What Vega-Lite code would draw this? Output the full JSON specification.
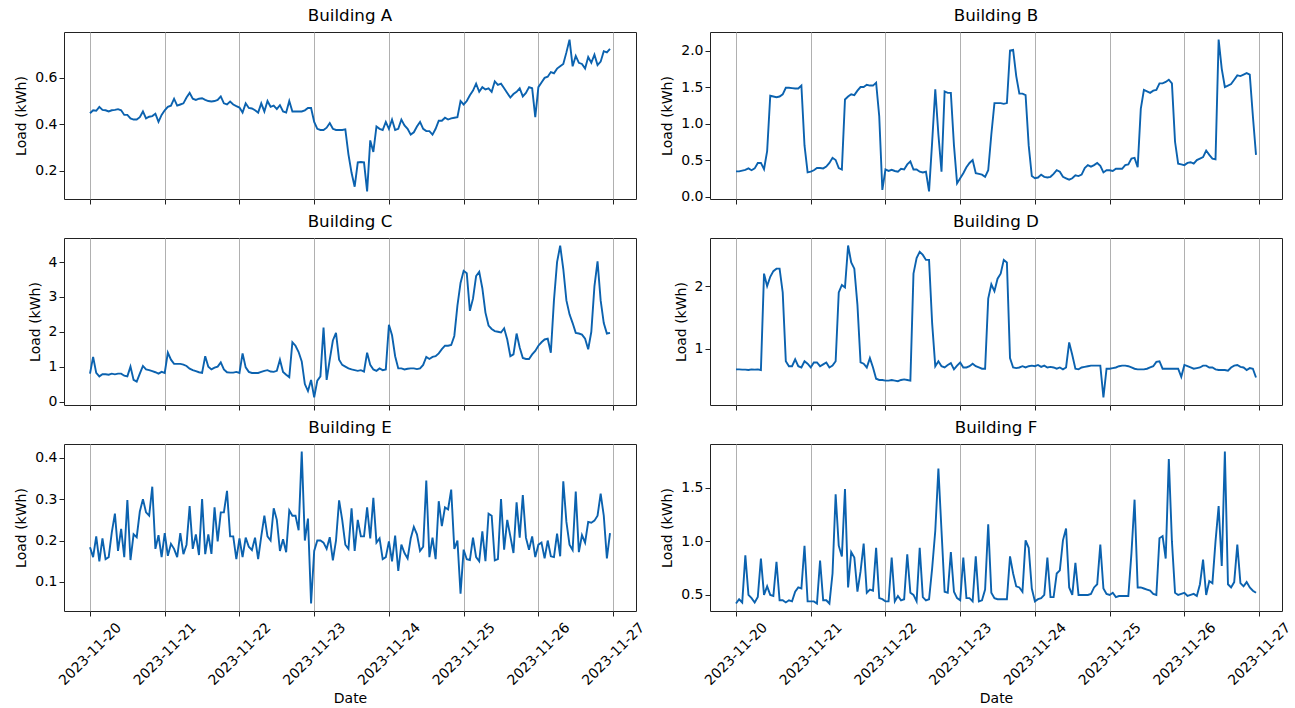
{
"$schema": "https://vega.github.io/schema/vega-lite/v6.json",
"padding": {"left": 14, "top": 7, "right": 5, "bottom": 1},
"config": {
 "font": "DejaVu Sans",
 "view": {"stroke": "#222222", "strokeWidth": 1},
 "title": {"fontSize": 16.7, "fontWeight": "normal", "color": "black", "offset": 7, "font": "DejaVu Sans"},
 "axis": {"labelFontSize": 14, "titleFontSize": 14, "titleFontWeight": "normal", "labelColor": "black", "titleColor": "black", "tickColor": "#222222", "tickSize": 5, "domain": false, "labelFont": "DejaVu Sans", "titleFont": "DejaVu Sans"},
 "axisX": {"grid": true, "gridColor": "#b0b0b0", "gridWidth": 1},
 "axisY": {"grid": false, "titlePadding": 6},
 "line": {"color": "#0b62af", "strokeWidth": 1.9}
},
"datasets": {"d": [
{"t":"2023-11-20T00:00","A":0.447,"B":0.345,"C":0.8,"D":0.67,"E":0.184,"F":0.42},
{"t":"2023-11-20T01:00","A":0.46,"B":0.345,"C":1.28,"D":0.67,"E":0.16,"F":0.46},
{"t":"2023-11-20T02:00","A":0.458,"B":0.355,"C":0.82,"D":0.665,"E":0.21,"F":0.43},
{"t":"2023-11-20T03:00","A":0.475,"B":0.365,"C":0.72,"D":0.665,"E":0.15,"F":0.87},
{"t":"2023-11-20T04:00","A":0.462,"B":0.385,"C":0.78,"D":0.66,"E":0.205,"F":0.5},
{"t":"2023-11-20T05:00","A":0.46,"B":0.36,"C":0.78,"D":0.67,"E":0.155,"F":0.47},
{"t":"2023-11-20T06:00","A":0.455,"B":0.385,"C":0.77,"D":0.665,"E":0.16,"F":0.43},
{"t":"2023-11-20T07:00","A":0.46,"B":0.46,"C":0.8,"D":0.67,"E":0.22,"F":0.48},
{"t":"2023-11-20T08:00","A":0.462,"B":0.46,"C":0.78,"D":0.66,"E":0.265,"F":0.84},
{"t":"2023-11-20T09:00","A":0.465,"B":0.375,"C":0.8,"D":2.2,"E":0.175,"F":0.5},
{"t":"2023-11-20T10:00","A":0.46,"B":0.62,"C":0.8,"D":2.0,"E":0.228,"F":0.58},
{"t":"2023-11-20T11:00","A":0.44,"B":1.38,"C":0.74,"D":2.15,"E":0.16,"F":0.5},
{"t":"2023-11-20T12:00","A":0.44,"B":1.37,"C":0.72,"D":2.24,"E":0.298,"F":0.49},
{"t":"2023-11-20T13:00","A":0.425,"B":1.36,"C":1.0,"D":2.28,"E":0.153,"F":0.81},
{"t":"2023-11-20T14:00","A":0.42,"B":1.37,"C":0.62,"D":2.28,"E":0.215,"F":0.45},
{"t":"2023-11-20T15:00","A":0.42,"B":1.4,"C":0.57,"D":1.9,"E":0.208,"F":0.45},
{"t":"2023-11-20T16:00","A":0.43,"B":1.49,"C":0.8,"D":0.8,"E":0.27,"F":0.43},
{"t":"2023-11-20T17:00","A":0.455,"B":1.49,"C":1.02,"D":0.72,"E":0.3,"F":0.45},
{"t":"2023-11-20T18:00","A":0.425,"B":1.485,"C":0.92,"D":0.72,"E":0.268,"F":0.44},
{"t":"2023-11-20T19:00","A":0.432,"B":1.48,"C":0.9,"D":0.83,"E":0.26,"F":0.53},
{"t":"2023-11-20T20:00","A":0.435,"B":1.48,"C":0.87,"D":0.72,"E":0.33,"F":0.57},
{"t":"2023-11-20T21:00","A":0.445,"B":1.52,"C":0.84,"D":0.7,"E":0.18,"F":0.56},
{"t":"2023-11-20T22:00","A":0.41,"B":0.7,"C":0.8,"D":0.8,"E":0.213,"F":0.96},
{"t":"2023-11-20T23:00","A":0.44,"B":0.33,"C":0.85,"D":0.76,"E":0.16,"F":0.44},
{"t":"2023-11-21T00:00","A":0.46,"B":0.34,"C":0.82,"D":0.7,"E":0.218,"F":0.44},
{"t":"2023-11-21T01:00","A":0.475,"B":0.36,"C":1.4,"D":0.78,"E":0.163,"F":0.44},
{"t":"2023-11-21T02:00","A":0.48,"B":0.39,"C":1.2,"D":0.78,"E":0.192,"F":0.42},
{"t":"2023-11-21T03:00","A":0.51,"B":0.39,"C":1.08,"D":0.72,"E":0.18,"F":0.82},
{"t":"2023-11-21T04:00","A":0.48,"B":0.385,"C":1.08,"D":0.75,"E":0.16,"F":0.45},
{"t":"2023-11-21T05:00","A":0.485,"B":0.41,"C":1.08,"D":0.78,"E":0.218,"F":0.45},
{"t":"2023-11-21T06:00","A":0.49,"B":0.46,"C":1.06,"D":0.7,"E":0.167,"F":0.42},
{"t":"2023-11-21T07:00","A":0.515,"B":0.53,"C":1.02,"D":0.73,"E":0.19,"F":0.7},
{"t":"2023-11-21T08:00","A":0.535,"B":0.5,"C":0.94,"D":0.8,"E":0.283,"F":1.44},
{"t":"2023-11-21T09:00","A":0.51,"B":0.39,"C":0.9,"D":1.9,"E":0.18,"F":0.96},
{"t":"2023-11-21T10:00","A":0.505,"B":0.37,"C":0.87,"D":2.02,"E":0.215,"F":0.86},
{"t":"2023-11-21T11:00","A":0.51,"B":1.33,"C":0.84,"D":1.98,"E":0.165,"F":1.49},
{"t":"2023-11-21T12:00","A":0.512,"B":1.37,"C":0.82,"D":2.65,"E":0.3,"F":0.57},
{"t":"2023-11-21T13:00","A":0.505,"B":1.4,"C":1.3,"D":2.38,"E":0.167,"F":0.9},
{"t":"2023-11-21T14:00","A":0.5,"B":1.39,"C":1.0,"D":2.28,"E":0.215,"F":0.85},
{"t":"2023-11-21T15:00","A":0.498,"B":1.45,"C":0.92,"D":1.7,"E":0.168,"F":0.53},
{"t":"2023-11-21T16:00","A":0.5,"B":1.5,"C":0.97,"D":0.78,"E":0.28,"F":0.72},
{"t":"2023-11-21T17:00","A":0.505,"B":1.5,"C":1.0,"D":0.76,"E":0.198,"F":0.98},
{"t":"2023-11-21T18:00","A":0.52,"B":1.53,"C":1.12,"D":0.7,"E":0.268,"F":0.52},
{"t":"2023-11-21T19:00","A":0.49,"B":1.52,"C":0.92,"D":0.85,"E":0.268,"F":0.55},
{"t":"2023-11-21T20:00","A":0.485,"B":1.52,"C":0.84,"D":0.7,"E":0.32,"F":0.54},
{"t":"2023-11-21T21:00","A":0.498,"B":1.56,"C":0.83,"D":0.52,"E":0.21,"F":0.94},
{"t":"2023-11-21T22:00","A":0.485,"B":1.1,"C":0.83,"D":0.5,"E":0.21,"F":0.47},
{"t":"2023-11-21T23:00","A":0.478,"B":0.09,"C":0.85,"D":0.5,"E":0.155,"F":0.46},
{"t":"2023-11-22T00:00","A":0.472,"B":0.37,"C":0.82,"D":0.49,"E":0.205,"F":0.44},
{"t":"2023-11-22T01:00","A":0.45,"B":0.35,"C":1.38,"D":0.49,"E":0.16,"F":0.44},
{"t":"2023-11-22T02:00","A":0.49,"B":0.365,"C":0.98,"D":0.5,"E":0.207,"F":0.85},
{"t":"2023-11-22T03:00","A":0.47,"B":0.35,"C":0.85,"D":0.49,"E":0.185,"F":0.44},
{"t":"2023-11-22T04:00","A":0.468,"B":0.34,"C":0.82,"D":0.48,"E":0.177,"F":0.49},
{"t":"2023-11-22T05:00","A":0.46,"B":0.38,"C":0.82,"D":0.5,"E":0.207,"F":0.45},
{"t":"2023-11-22T06:00","A":0.45,"B":0.37,"C":0.82,"D":0.51,"E":0.155,"F":0.46},
{"t":"2023-11-22T07:00","A":0.49,"B":0.44,"C":0.85,"D":0.5,"E":0.21,"F":0.88},
{"t":"2023-11-22T08:00","A":0.455,"B":0.48,"C":0.88,"D":0.49,"E":0.26,"F":0.52},
{"t":"2023-11-22T09:00","A":0.5,"B":0.37,"C":0.9,"D":2.2,"E":0.21,"F":0.5},
{"t":"2023-11-22T10:00","A":0.475,"B":0.37,"C":0.86,"D":2.45,"E":0.2,"F":0.44},
{"t":"2023-11-22T11:00","A":0.48,"B":0.34,"C":0.85,"D":2.55,"E":0.278,"F":0.94},
{"t":"2023-11-22T12:00","A":0.465,"B":0.33,"C":0.88,"D":2.5,"E":0.25,"F":0.48},
{"t":"2023-11-22T13:00","A":0.482,"B":0.34,"C":1.2,"D":2.42,"E":0.175,"F":0.45},
{"t":"2023-11-22T14:00","A":0.455,"B":0.07,"C":0.85,"D":2.42,"E":0.203,"F":0.46},
{"t":"2023-11-22T15:00","A":0.45,"B":0.75,"C":0.77,"D":1.4,"E":0.172,"F":0.75},
{"t":"2023-11-22T16:00","A":0.5,"B":1.47,"C":0.7,"D":0.72,"E":0.273,"F":1.1},
{"t":"2023-11-22T17:00","A":0.455,"B":0.85,"C":1.7,"D":0.8,"E":0.26,"F":1.68},
{"t":"2023-11-22T18:00","A":0.455,"B":0.34,"C":1.6,"D":0.72,"E":0.26,"F":1.1},
{"t":"2023-11-22T19:00","A":0.455,"B":1.44,"C":1.42,"D":0.7,"E":0.225,"F":0.53},
{"t":"2023-11-22T20:00","A":0.455,"B":1.42,"C":1.15,"D":0.74,"E":0.415,"F":0.52},
{"t":"2023-11-22T21:00","A":0.46,"B":1.42,"C":0.5,"D":0.77,"E":0.2,"F":0.9},
{"t":"2023-11-22T22:00","A":0.47,"B":0.7,"C":0.3,"D":0.67,"E":0.253,"F":0.53},
{"t":"2023-11-22T23:00","A":0.47,"B":0.18,"C":0.62,"D":0.73,"E":0.048,"F":0.47},
{"t":"2023-11-23T00:00","A":0.41,"B":0.25,"C":0.12,"D":0.78,"E":0.175,"F":0.45},
{"t":"2023-11-23T01:00","A":0.38,"B":0.32,"C":0.6,"D":0.7,"E":0.2,"F":0.85},
{"t":"2023-11-23T02:00","A":0.375,"B":0.4,"C":0.72,"D":0.7,"E":0.2,"F":0.47},
{"t":"2023-11-23T03:00","A":0.375,"B":0.46,"C":2.12,"D":0.72,"E":0.195,"F":0.47},
{"t":"2023-11-23T04:00","A":0.385,"B":0.5,"C":0.62,"D":0.76,"E":0.18,"F":0.44},
{"t":"2023-11-23T05:00","A":0.405,"B":0.32,"C":1.2,"D":0.72,"E":0.208,"F":0.86},
{"t":"2023-11-23T06:00","A":0.38,"B":0.31,"C":1.75,"D":0.7,"E":0.152,"F":0.44},
{"t":"2023-11-23T07:00","A":0.375,"B":0.3,"C":1.97,"D":0.68,"E":0.2,"F":0.45},
{"t":"2023-11-23T08:00","A":0.375,"B":0.27,"C":1.2,"D":0.68,"E":0.297,"F":0.55},
{"t":"2023-11-23T09:00","A":0.375,"B":0.36,"C":1.05,"D":1.8,"E":0.25,"F":1.16},
{"t":"2023-11-23T10:00","A":0.378,"B":0.85,"C":1.0,"D":2.03,"E":0.19,"F":0.52},
{"t":"2023-11-23T11:00","A":0.27,"B":1.28,"C":0.95,"D":1.92,"E":0.18,"F":0.47},
{"t":"2023-11-23T12:00","A":0.19,"B":1.28,"C":0.92,"D":2.12,"E":0.278,"F":0.46},
{"t":"2023-11-23T13:00","A":0.13,"B":1.28,"C":0.9,"D":2.2,"E":0.175,"F":0.46},
{"t":"2023-11-23T14:00","A":0.235,"B":1.27,"C":0.88,"D":2.42,"E":0.25,"F":0.46},
{"t":"2023-11-23T15:00","A":0.237,"B":1.28,"C":0.9,"D":2.38,"E":0.21,"F":0.46},
{"t":"2023-11-23T16:00","A":0.235,"B":2.0,"C":0.86,"D":0.85,"E":0.21,"F":0.86},
{"t":"2023-11-23T17:00","A":0.11,"B":2.01,"C":1.4,"D":0.7,"E":0.28,"F":0.7},
{"t":"2023-11-23T18:00","A":0.33,"B":1.65,"C":1.05,"D":0.69,"E":0.205,"F":0.58},
{"t":"2023-11-23T19:00","A":0.28,"B":1.41,"C":0.92,"D":0.7,"E":0.303,"F":0.57},
{"t":"2023-11-23T20:00","A":0.39,"B":1.41,"C":0.88,"D":0.72,"E":0.195,"F":0.53},
{"t":"2023-11-23T21:00","A":0.38,"B":1.39,"C":0.95,"D":0.7,"E":0.205,"F":1.01},
{"t":"2023-11-23T22:00","A":0.375,"B":0.7,"C":0.9,"D":0.72,"E":0.155,"F":0.94},
{"t":"2023-11-23T23:00","A":0.41,"B":0.28,"C":0.92,"D":0.73,"E":0.16,"F":0.56},
{"t":"2023-11-24T00:00","A":0.38,"B":0.25,"C":2.2,"D":0.72,"E":0.198,"F":0.44},
{"t":"2023-11-24T01:00","A":0.42,"B":0.26,"C":1.9,"D":0.74,"E":0.15,"F":0.46},
{"t":"2023-11-24T02:00","A":0.375,"B":0.3,"C":1.3,"D":0.71,"E":0.212,"F":0.47},
{"t":"2023-11-24T03:00","A":0.38,"B":0.27,"C":0.95,"D":0.73,"E":0.127,"F":0.5},
{"t":"2023-11-24T04:00","A":0.42,"B":0.26,"C":0.95,"D":0.7,"E":0.19,"F":0.85},
{"t":"2023-11-24T05:00","A":0.395,"B":0.27,"C":0.92,"D":0.71,"E":0.17,"F":0.48},
{"t":"2023-11-24T06:00","A":0.38,"B":0.31,"C":0.94,"D":0.7,"E":0.157,"F":0.48},
{"t":"2023-11-24T07:00","A":0.355,"B":0.36,"C":0.95,"D":0.68,"E":0.205,"F":0.7},
{"t":"2023-11-24T08:00","A":0.365,"B":0.34,"C":0.95,"D":0.7,"E":0.233,"F":0.73},
{"t":"2023-11-24T09:00","A":0.39,"B":0.27,"C":0.93,"D":0.67,"E":0.215,"F":1.01},
{"t":"2023-11-24T10:00","A":0.41,"B":0.25,"C":0.95,"D":0.7,"E":0.175,"F":1.12},
{"t":"2023-11-24T11:00","A":0.38,"B":0.23,"C":1.05,"D":1.1,"E":0.185,"F":0.57},
{"t":"2023-11-24T12:00","A":0.37,"B":0.25,"C":1.28,"D":0.9,"E":0.345,"F":0.5},
{"t":"2023-11-24T13:00","A":0.37,"B":0.29,"C":1.22,"D":0.68,"E":0.16,"F":0.8},
{"t":"2023-11-24T14:00","A":0.355,"B":0.28,"C":1.28,"D":0.67,"E":0.207,"F":0.5},
{"t":"2023-11-24T15:00","A":0.38,"B":0.3,"C":1.3,"D":0.7,"E":0.155,"F":0.5},
{"t":"2023-11-24T16:00","A":0.415,"B":0.39,"C":1.38,"D":0.71,"E":0.295,"F":0.5},
{"t":"2023-11-24T17:00","A":0.415,"B":0.43,"C":1.5,"D":0.72,"E":0.235,"F":0.5},
{"t":"2023-11-24T18:00","A":0.428,"B":0.41,"C":1.6,"D":0.73,"E":0.28,"F":0.51},
{"t":"2023-11-24T19:00","A":0.42,"B":0.43,"C":1.6,"D":0.73,"E":0.275,"F":0.57},
{"t":"2023-11-24T20:00","A":0.425,"B":0.46,"C":1.62,"D":0.73,"E":0.323,"F":0.6},
{"t":"2023-11-24T21:00","A":0.428,"B":0.42,"C":1.88,"D":0.73,"E":0.18,"F":0.97},
{"t":"2023-11-24T22:00","A":0.43,"B":0.33,"C":2.75,"D":0.22,"E":0.2,"F":0.56},
{"t":"2023-11-24T23:00","A":0.5,"B":0.36,"C":3.4,"D":0.68,"E":0.072,"F":0.51},
{"t":"2023-11-25T00:00","A":0.485,"B":0.36,"C":3.75,"D":0.68,"E":0.178,"F":0.5},
{"t":"2023-11-25T01:00","A":0.5,"B":0.35,"C":3.68,"D":0.69,"E":0.155,"F":0.52},
{"t":"2023-11-25T02:00","A":0.525,"B":0.38,"C":2.6,"D":0.7,"E":0.153,"F":0.48},
{"t":"2023-11-25T03:00","A":0.545,"B":0.38,"C":2.95,"D":0.72,"E":0.207,"F":0.49},
{"t":"2023-11-25T04:00","A":0.575,"B":0.38,"C":3.6,"D":0.73,"E":0.16,"F":0.49},
{"t":"2023-11-25T05:00","A":0.54,"B":0.43,"C":3.72,"D":0.73,"E":0.15,"F":0.49},
{"t":"2023-11-25T06:00","A":0.56,"B":0.44,"C":3.25,"D":0.72,"E":0.222,"F":0.49},
{"t":"2023-11-25T07:00","A":0.55,"B":0.52,"C":2.55,"D":0.7,"E":0.15,"F":0.89},
{"t":"2023-11-25T08:00","A":0.555,"B":0.53,"C":2.18,"D":0.68,"E":0.265,"F":1.39},
{"t":"2023-11-25T09:00","A":0.54,"B":0.4,"C":2.08,"D":0.67,"E":0.26,"F":0.57},
{"t":"2023-11-25T10:00","A":0.585,"B":1.2,"C":2.02,"D":0.67,"E":0.152,"F":0.57},
{"t":"2023-11-25T11:00","A":0.57,"B":1.46,"C":2.0,"D":0.67,"E":0.155,"F":0.56},
{"t":"2023-11-25T12:00","A":0.575,"B":1.44,"C":1.98,"D":0.68,"E":0.3,"F":0.55},
{"t":"2023-11-25T13:00","A":0.555,"B":1.42,"C":2.1,"D":0.7,"E":0.178,"F":0.54},
{"t":"2023-11-25T14:00","A":0.535,"B":1.45,"C":1.78,"D":0.72,"E":0.25,"F":0.51},
{"t":"2023-11-25T15:00","A":0.515,"B":1.46,"C":1.3,"D":0.79,"E":0.21,"F":0.5},
{"t":"2023-11-25T16:00","A":0.53,"B":1.55,"C":1.35,"D":0.8,"E":0.17,"F":1.03},
{"t":"2023-11-25T17:00","A":0.54,"B":1.55,"C":1.95,"D":0.68,"E":0.292,"F":1.05},
{"t":"2023-11-25T18:00","A":0.555,"B":1.57,"C":1.55,"D":0.68,"E":0.207,"F":0.84},
{"t":"2023-11-25T19:00","A":0.52,"B":1.6,"C":1.25,"D":0.68,"E":0.31,"F":1.77},
{"t":"2023-11-25T20:00","A":0.535,"B":1.55,"C":1.22,"D":0.68,"E":0.207,"F":1.0},
{"t":"2023-11-25T21:00","A":0.56,"B":0.75,"C":1.22,"D":0.68,"E":0.178,"F":0.52},
{"t":"2023-11-25T22:00","A":0.555,"B":0.45,"C":1.35,"D":0.68,"E":0.21,"F":0.5},
{"t":"2023-11-25T23:00","A":0.43,"B":0.44,"C":1.45,"D":0.55,"E":0.16,"F":0.51},
{"t":"2023-11-26T00:00","A":0.56,"B":0.43,"C":1.6,"D":0.74,"E":0.19,"F":0.52},
{"t":"2023-11-26T01:00","A":0.58,"B":0.46,"C":1.7,"D":0.72,"E":0.195,"F":0.49},
{"t":"2023-11-26T02:00","A":0.6,"B":0.47,"C":1.78,"D":0.7,"E":0.157,"F":0.5},
{"t":"2023-11-26T03:00","A":0.605,"B":0.45,"C":1.8,"D":0.68,"E":0.2,"F":0.51},
{"t":"2023-11-26T04:00","A":0.625,"B":0.5,"C":1.4,"D":0.69,"E":0.162,"F":0.49},
{"t":"2023-11-26T05:00","A":0.62,"B":0.52,"C":2.9,"D":0.7,"E":0.16,"F":0.6},
{"t":"2023-11-26T06:00","A":0.64,"B":0.54,"C":4.0,"D":0.73,"E":0.217,"F":0.83},
{"t":"2023-11-26T07:00","A":0.65,"B":0.63,"C":4.47,"D":0.73,"E":0.162,"F":0.5},
{"t":"2023-11-26T08:00","A":0.66,"B":0.57,"C":3.8,"D":0.7,"E":0.343,"F":0.63},
{"t":"2023-11-26T09:00","A":0.71,"B":0.52,"C":2.9,"D":0.7,"E":0.245,"F":0.61},
{"t":"2023-11-26T10:00","A":0.765,"B":0.51,"C":2.5,"D":0.67,"E":0.19,"F":1.0},
{"t":"2023-11-26T11:00","A":0.65,"B":2.15,"C":2.25,"D":0.66,"E":0.177,"F":1.33},
{"t":"2023-11-26T12:00","A":0.695,"B":1.75,"C":1.97,"D":0.66,"E":0.318,"F":0.77},
{"t":"2023-11-26T13:00","A":0.665,"B":1.5,"C":1.95,"D":0.66,"E":0.172,"F":1.84},
{"t":"2023-11-26T14:00","A":0.66,"B":1.52,"C":1.92,"D":0.65,"E":0.213,"F":0.6},
{"t":"2023-11-26T15:00","A":0.64,"B":1.54,"C":1.8,"D":0.7,"E":0.195,"F":0.57},
{"t":"2023-11-26T16:00","A":0.69,"B":1.6,"C":1.5,"D":0.73,"E":0.245,"F":0.62},
{"t":"2023-11-26T17:00","A":0.665,"B":1.66,"C":2.0,"D":0.74,"E":0.243,"F":0.97},
{"t":"2023-11-26T18:00","A":0.7,"B":1.65,"C":3.3,"D":0.71,"E":0.248,"F":0.61},
{"t":"2023-11-26T19:00","A":0.655,"B":1.67,"C":4.02,"D":0.7,"E":0.26,"F":0.58},
{"t":"2023-11-26T20:00","A":0.67,"B":1.69,"C":2.9,"D":0.66,"E":0.313,"F":0.62},
{"t":"2023-11-26T21:00","A":0.715,"B":1.67,"C":2.25,"D":0.69,"E":0.26,"F":0.57},
{"t":"2023-11-26T22:00","A":0.71,"B":1.1,"C":1.95,"D":0.68,"E":0.157,"F":0.54},
{"t":"2023-11-26T23:00","A":0.725,"B":0.57,"C":1.97,"D":0.54,"E":0.218,"F":0.52}
]},
"data": {"name": "d"},
"columns": 2,
"spacing": {"row": 8, "column": 12},
"resolve": {"scale": {"x": "independent", "y": "independent"}},
"concat": [
 {"title": "Building A", "width": 572, "height": 167, "mark": "line",
  "encoding": {
   "x": {"field": "t", "type": "temporal", "scale": {"domain": [{"year": 2023, "month": 11, "date": 19, "hours": 15, "minutes": 39}, {"year": 2023, "month": 11, "date": 27, "hours": 7, "minutes": 21}]}, "axis": {"labels": false, "title": null, "tickCount": {"interval": "day", "step": 1}}},
   "y": {"field": "A", "type": "quantitative", "scale": {"domain": [0.077, 0.798], "nice": false, "zero": false}, "axis": {"title": "Load (kWh)", "values": [0.2, 0.4, 0.6], "format": ".1f"}}}},
 {"title": "Building B", "width": 572, "height": 167, "mark": "line",
  "encoding": {
   "x": {"field": "t", "type": "temporal", "scale": {"domain": [{"year": 2023, "month": 11, "date": 19, "hours": 15, "minutes": 39}, {"year": 2023, "month": 11, "date": 27, "hours": 7, "minutes": 21}]}, "axis": {"labels": false, "title": null, "tickCount": {"interval": "day", "step": 1}}},
   "y": {"field": "B", "type": "quantitative", "scale": {"domain": [-0.034, 2.254], "nice": false, "zero": false}, "axis": {"title": "Load (kWh)", "values": [0, 0.5, 1, 1.5, 2], "format": ".1f"}}}},
 {"title": "Building C", "width": 572, "height": 167, "mark": "line",
  "encoding": {
   "x": {"field": "t", "type": "temporal", "scale": {"domain": [{"year": 2023, "month": 11, "date": 19, "hours": 15, "minutes": 39}, {"year": 2023, "month": 11, "date": 27, "hours": 7, "minutes": 21}]}, "axis": {"labels": false, "title": null, "tickCount": {"interval": "day", "step": 1}}},
   "y": {"field": "C", "type": "quantitative", "scale": {"domain": [-0.1, 4.69], "nice": false, "zero": false}, "axis": {"title": "Load (kWh)", "values": [0, 1, 2, 3, 4], "format": "d"}}}},
 {"title": "Building D", "width": 572, "height": 167, "mark": "line",
  "encoding": {
   "x": {"field": "t", "type": "temporal", "scale": {"domain": [{"year": 2023, "month": 11, "date": 19, "hours": 15, "minutes": 39}, {"year": 2023, "month": 11, "date": 27, "hours": 7, "minutes": 21}]}, "axis": {"labels": false, "title": null, "tickCount": {"interval": "day", "step": 1}}},
   "y": {"field": "D", "type": "quantitative", "scale": {"domain": [0.1, 2.77], "nice": false, "zero": false}, "axis": {"title": "Load (kWh)", "values": [1, 2], "format": "d"}}}},
 {"title": "Building E", "width": 572, "height": 167, "mark": "line",
  "encoding": {
   "x": {"field": "t", "type": "temporal", "scale": {"domain": [{"year": 2023, "month": 11, "date": 19, "hours": 15, "minutes": 39}, {"year": 2023, "month": 11, "date": 27, "hours": 7, "minutes": 21}]}, "axis": {"title": "Date", "format": "%Y-%m-%d", "labelAngle": -45, "labelAlign": "center", "labelBaseline": "middle", "labelPadding": 38, "titlePadding": 4, "tickCount": {"interval": "day", "step": 1}}},
   "y": {"field": "E", "type": "quantitative", "scale": {"domain": [0.03, 0.433], "nice": false, "zero": false}, "axis": {"title": "Load (kWh)", "values": [0.1, 0.2, 0.3, 0.4], "format": ".1f"}}}},
 {"title": "Building F", "width": 572, "height": 167, "mark": "line",
  "encoding": {
   "x": {"field": "t", "type": "temporal", "scale": {"domain": [{"year": 2023, "month": 11, "date": 19, "hours": 15, "minutes": 39}, {"year": 2023, "month": 11, "date": 27, "hours": 7, "minutes": 21}]}, "axis": {"title": "Date", "format": "%Y-%m-%d", "labelAngle": -45, "labelAlign": "center", "labelBaseline": "middle", "labelPadding": 38, "titlePadding": 4, "tickCount": {"interval": "day", "step": 1}}},
   "y": {"field": "F", "type": "quantitative", "scale": {"domain": [0.35, 1.91], "nice": false, "zero": false}, "axis": {"title": "Load (kWh)", "values": [0.5, 1.0, 1.5], "format": ".1f"}}}}
]
}
